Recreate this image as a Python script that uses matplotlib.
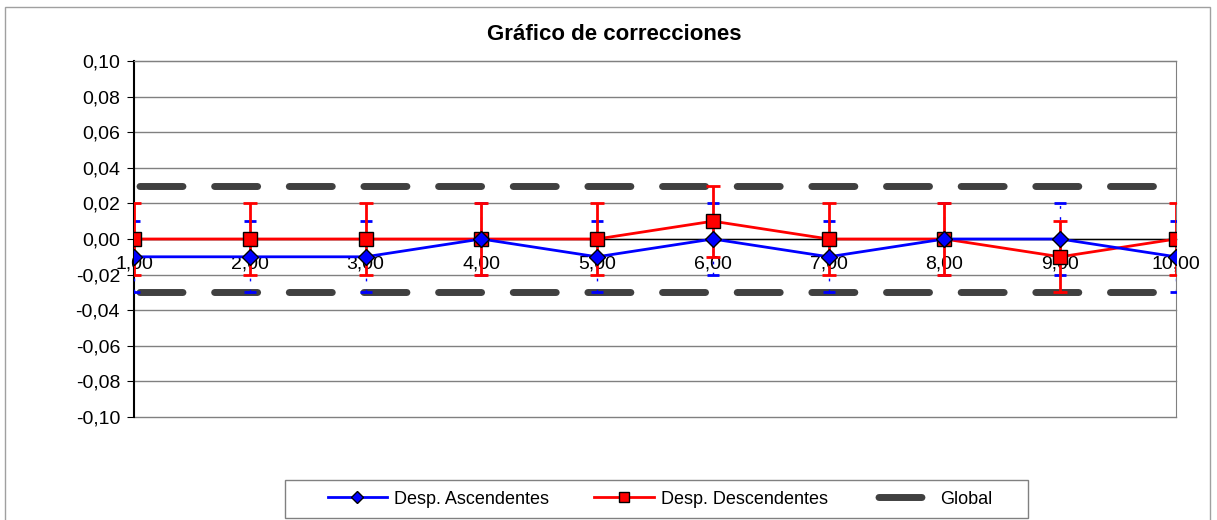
import matplotlib.pyplot as plt
import matplotlib.patches as mpatches

plt.rcParams['font.family'] = ['Liberation Sans', 'DejaVu Sans']

x = [1, 2, 3, 4, 5, 6, 7, 8, 9, 10]
asc = [-0.01, -0.01, -0.01, 0.0, -0.01, 0.0, -0.01, 0.0, 0.0, -0.01]
desc = [0.0, 0.0, 0.0, 0.0, 0.0, 0.01, 0.0, 0.0, -0.01, 0.0]
err_asc = [0.02] * 10
err_desc = [0.02] * 10
global_lim = 0.03
yticks = [-0.10, -0.08, -0.06, -0.04, -0.02, 0.0, 0.02, 0.04, 0.06, 0.08, 0.10]

W, H = 1217, 520
fig = plt.figure(figsize=(W / 100, H / 100), dpi=100)
# borde del gráfico
fig.patches.append(mpatches.Rectangle((5 / W, -0.01), 1205 / W, 1.01 - 7 / H,
                                      transform=fig.transFigure, fill=False,
                                      edgecolor='#a0a0a0', linewidth=1))
ax = fig.add_axes([134 / W, 1 - 417 / H, 1042 / W, 356 / H])

for yt in yticks:
    ax.axhline(yt, color='#808080', linewidth=1, zorder=0, clip_on=False)

dash = (9.96, (6.19, 4.56))
ax.plot([1, 10], [global_lim, global_lim], color='#404040', linewidth=5,
        linestyle=dash, dash_capstyle='round', label='Global', zorder=2)
ax.plot([1, 10], [-global_lim, -global_lim], color='#404040', linewidth=5,
        linestyle=dash, dash_capstyle='round', zorder=2)

eb1 = ax.errorbar(x, asc, yerr=err_asc, fmt='none', ecolor='blue', elinewidth=1,
                  capsize=4, capthick=2, zorder=3)
eb1[2][0].set_linestyle((0, (2, 6)))
ax.errorbar(x, desc, yerr=err_desc, fmt='none', ecolor='red', elinewidth=2,
            capsize=5, capthick=2, zorder=3)

ax.plot(x, asc, color='blue', linewidth=2, marker='D', markersize=8,
        markerfacecolor='blue', markeredgecolor='black', markeredgewidth=1,
        label='Desp. Ascendentes', zorder=5)
ax.plot(x, desc, color='red', linewidth=2, marker='s', markersize=10,
        markerfacecolor='red', markeredgecolor='black', markeredgewidth=1,
        label='Desp. Descendentes', zorder=4)

ax.set_xlim(1, 10)
ax.set_ylim(-0.10, 0.10)
ax.set_yticks(yticks)
ax.set_yticklabels([f'{v:.2f}'.replace('.', ',').replace('-0,00', '0,00') for v in yticks])
ax.set_xticks(x)
ax.set_xticklabels([f'{v:.2f}'.replace('.', ',') for v in x])

ax.spines['bottom'].set_position(('data', 0))
ax.spines['bottom'].set_linewidth(1)
ax.spines['left'].set_linewidth(1.5)
ax.spines['top'].set_color('#808080')
ax.spines['right'].set_color('#808080')
ax.tick_params(axis='y', direction='out', length=5, labelsize=14, pad=5)
ax.tick_params(axis='x', direction='inout', length=8, labelsize=14, pad=8)
for lbl in ax.get_xticklabels():
    lbl.set_zorder(10)

fig.text(614 / W, 1 - 35 / H, 'Gráfico de correcciones', fontsize=16,
         fontweight='bold', ha='center', va='center')

handles, labels = ax.get_legend_handles_labels()
order = [labels.index('Desp. Ascendentes'), labels.index('Desp. Descendentes'), labels.index('Global')]
fig.legend([handles[i] for i in order], [labels[i] for i in order],
           loc='center', bbox_to_anchor=(660 / W, 1 - 499 / H), ncol=3,
           fontsize=13, frameon=False, handlelength=3.3, handletextpad=0.4,
           columnspacing=2.5, markerscale=0.75)
fig.patches.append(mpatches.Rectangle((285 / W, 1 - 518 / H), 743 / W, 38 / H,
                                      transform=fig.transFigure, fill=False,
                                      edgecolor='#808080', linewidth=1))

fig.savefig('out.png', dpi=100)
